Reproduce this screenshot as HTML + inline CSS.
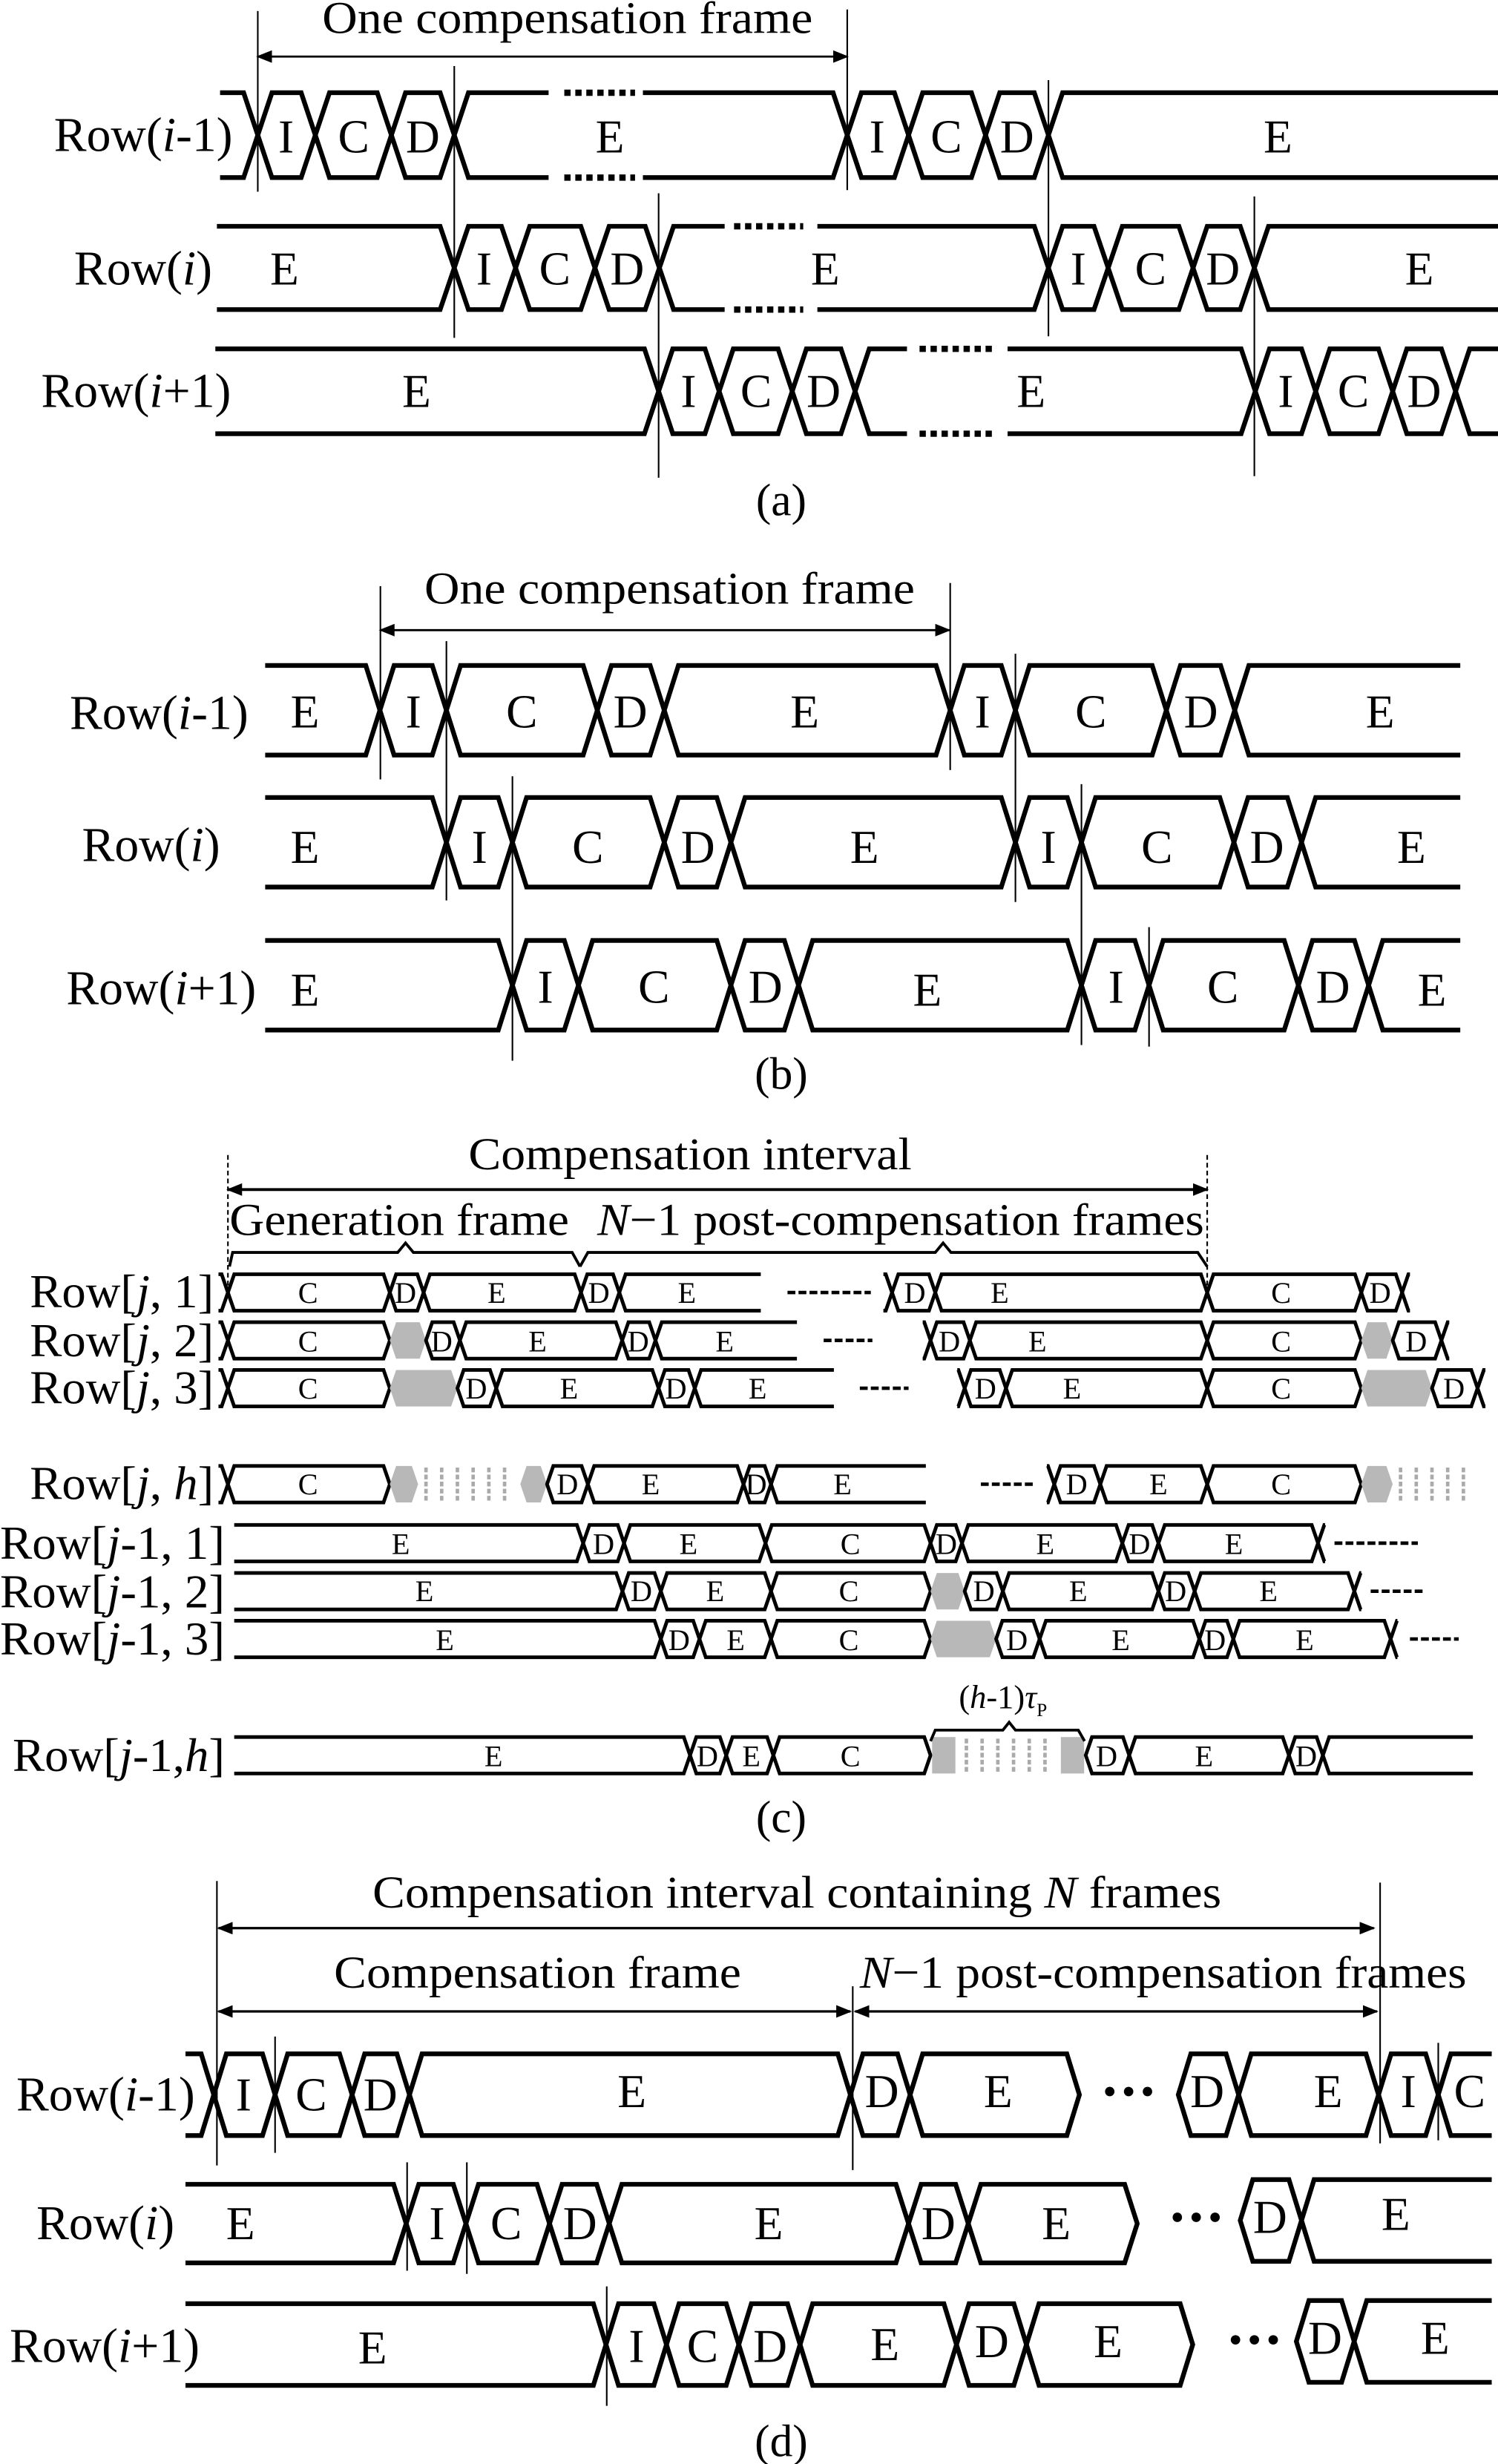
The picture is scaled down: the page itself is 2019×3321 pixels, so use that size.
<!DOCTYPE html>
<html><head><meta charset="utf-8">
<style>
html,body{margin:0;padding:0;background:#fff;}
svg{display:block;}
text{font-family:"Liberation Serif",serif;fill:#000;}
.L{font-size:31px;}
.S{font-size:30px;text-anchor:middle;}
.c{font-size:30px;}
.s{font-size:19px;text-anchor:middle;}
.T{font-size:29px;text-anchor:middle;}
</style></head><body>
<svg id="svg" width="2019" height="3321" viewBox="0 0 953 1568" preserveAspectRatio="none" xmlns="http://www.w3.org/2000/svg">
<rect width="953" height="1568" fill="#fff"/>
<defs>
<marker id="ar" markerWidth="10" markerHeight="8" refX="9" refY="4" orient="auto" markerUnits="userSpaceOnUse"><path d="M0,0 L10,4 L0,8 Z" fill="#000"/></marker>
<marker id="al" markerWidth="10" markerHeight="8" refX="1" refY="4" orient="auto" markerUnits="userSpaceOnUse"><path d="M10,0 L0,4 L10,8 Z" fill="#000"/></marker>
</defs>
<g id="shapes" fill="none" stroke="#000" stroke-linejoin="miter"></g>

<!-- ===== Panel (a) ===== -->
<line x1="164" y1="36" x2="539" y2="36" stroke="#000" stroke-width="1.3" marker-start="url(#al)" marker-end="url(#ar)"/>
<text class="T" x="361" y="21" textLength="312" lengthAdjust="spacingAndGlyphs">One compensation frame</text>
<g stroke="#000" stroke-width="1">
<line x1="164" y1="7" x2="164" y2="122"/><line x1="289" y1="42" x2="289" y2="215"/>
<line x1="539" y1="6" x2="539" y2="121"/><line x1="419" y1="123" x2="419" y2="304"/>
<line x1="667" y1="51" x2="667" y2="214"/><line x1="798" y1="125" x2="798" y2="303"/>
</g>
<text class="L" x="148" y="96" text-anchor="end">Row(<tspan font-style="italic">i</tspan>-1)</text>
<text class="L" x="135" y="181" text-anchor="end">Row(<tspan font-style="italic">i</tspan>)</text>
<text class="L" x="147" y="259" text-anchor="end">Row(<tspan font-style="italic">i</tspan>+1)</text>
<g class="S">
<text x="182" y="97">I</text><text x="225" y="97">C</text><text x="269" y="97">D</text><text x="388" y="97">E</text><text x="558" y="97">I</text><text x="602" y="97">C</text><text x="647" y="97">D</text><text x="813" y="97">E</text>
<text x="181" y="181">E</text><text x="308" y="181">I</text><text x="353" y="181">C</text><text x="399" y="181">D</text><text x="525" y="181">E</text><text x="686" y="181">I</text><text x="732" y="181">C</text><text x="778" y="181">D</text><text x="903" y="181">E</text>
<text x="265" y="259">E</text><text x="438" y="259">I</text><text x="481" y="259">C</text><text x="524" y="259">D</text><text x="656" y="259">E</text><text x="818" y="259">I</text><text x="861" y="259">C</text><text x="906" y="259">D</text>
</g>
<text class="T" x="497" y="328">(a)</text>

<!-- ===== Panel (b) ===== -->
<line x1="242" y1="401" x2="604" y2="401" stroke="#000" stroke-width="1.3" marker-start="url(#al)" marker-end="url(#ar)"/>
<text class="T" x="426" y="384" textLength="312" lengthAdjust="spacingAndGlyphs">One compensation frame</text>
<g stroke="#000" stroke-width="1">
<line x1="242" y1="373" x2="242" y2="496"/><line x1="284" y1="408" x2="284" y2="573"/><line x1="326" y1="494" x2="326" y2="675"/>
<line x1="604.5" y1="371" x2="604.5" y2="490"/><line x1="646" y1="416" x2="646" y2="574"/><line x1="688" y1="499" x2="688" y2="665"/><line x1="731" y1="590" x2="731" y2="666"/>
</g>
<text class="L" x="158" y="464" text-anchor="end">Row(<tspan font-style="italic">i</tspan>-1)</text>
<text class="L" x="140" y="548" text-anchor="end">Row(<tspan font-style="italic">i</tspan>)</text>
<text class="L" x="163" y="639" text-anchor="end">Row(<tspan font-style="italic">i</tspan>+1)</text>
<g class="S">
<text x="194" y="463">E</text><text x="263" y="463">I</text><text x="332" y="463">C</text><text x="401" y="463">D</text><text x="512" y="463">E</text><text x="625" y="463">I</text><text x="694" y="463">C</text><text x="764" y="463">D</text><text x="878" y="463">E</text>
<text x="194" y="549">E</text><text x="305" y="549">I</text><text x="374" y="549">C</text><text x="444" y="549">D</text><text x="550" y="549">E</text><text x="667" y="549">I</text><text x="736" y="549">C</text><text x="806" y="549">D</text><text x="898" y="549">E</text>
<text x="194" y="640">E</text><text x="347" y="638">I</text><text x="416" y="638">C</text><text x="487" y="638">D</text><text x="590" y="640">E</text><text x="710" y="638">I</text><text x="778" y="638">C</text><text x="848" y="638">D</text><text x="911" y="640">E</text>
</g>
<text class="T" x="497" y="693">(b)</text>

<!-- ===== Panel (c) ===== -->
<line x1="145" y1="735" x2="145" y2="822" stroke="#000" stroke-width="1" stroke-dasharray="3 2"/>
<line x1="768" y1="735" x2="768" y2="822" stroke="#000" stroke-width="1" stroke-dasharray="3 2"/>
<line x1="145" y1="757" x2="768" y2="757" stroke="#000" stroke-width="1.8" marker-start="url(#al)" marker-end="url(#ar)"/>
<text class="T" x="439" y="744" textLength="282" lengthAdjust="spacingAndGlyphs">Compensation interval</text>
<text x="146" y="786" style="font-size:29px" textLength="216" lengthAdjust="spacingAndGlyphs">Generation frame</text>
<text x="380" y="786" style="font-size:29px" textLength="386" lengthAdjust="spacingAndGlyphs"><tspan font-style="italic">N</tspan>−1 post-compensation frames</text>
<path d="M146,806 L148,797 L253,797 L258,791 L263,797 L364,797 L369,806 M369,806 L374,797 L595,797 L600,791 L605,797 L762,797 L768,806" fill="none" stroke="#000" stroke-width="1.8"/>
<g class="c">
<text x="136" y="832" text-anchor="end" textLength="117" lengthAdjust="spacingAndGlyphs">Row[<tspan font-style="italic">j</tspan>, 1]</text>
<text x="136" y="863" text-anchor="end" textLength="117" lengthAdjust="spacingAndGlyphs">Row[<tspan font-style="italic">j</tspan>, 2]</text>
<text x="136" y="893" text-anchor="end" textLength="117" lengthAdjust="spacingAndGlyphs">Row[<tspan font-style="italic">j</tspan>, 3]</text>
<text x="136" y="954" text-anchor="end" textLength="117" lengthAdjust="spacingAndGlyphs">Row[<tspan font-style="italic">j</tspan>, <tspan font-style="italic">h</tspan>]</text>
<text x="143" y="992" text-anchor="end" textLength="143" lengthAdjust="spacingAndGlyphs">Row[<tspan font-style="italic">j</tspan>-1, 1]</text>
<text x="143" y="1023" text-anchor="end" textLength="143" lengthAdjust="spacingAndGlyphs">Row[<tspan font-style="italic">j</tspan>-1, 2]</text>
<text x="143" y="1053" text-anchor="end" textLength="143" lengthAdjust="spacingAndGlyphs">Row[<tspan font-style="italic">j</tspan>-1, 3]</text>
<text x="143" y="1127" text-anchor="end" textLength="135" lengthAdjust="spacingAndGlyphs">Row[<tspan font-style="italic">j</tspan>-1,<tspan font-style="italic">h</tspan>]</text>
</g>
<g class="s">
<text x="196" y="829">C</text><text x="258" y="829">D</text><text x="316" y="829">E</text><text x="381" y="829">D</text><text x="437" y="829">E</text><text x="582" y="829">D</text><text x="636" y="829">E</text><text x="815" y="829">C</text><text x="878" y="829">D</text>
<text x="196" y="860">C</text><text x="281" y="860">D</text><text x="342" y="860">E</text><text x="406" y="860">D</text><text x="461" y="860">E</text><text x="604" y="860">D</text><text x="660" y="860">E</text><text x="815" y="860">C</text><text x="901" y="860">D</text>
<text x="196" y="890">C</text><text x="303" y="890">D</text><text x="362" y="890">E</text><text x="430" y="890">D</text><text x="482" y="890">E</text><text x="627" y="890">D</text><text x="682" y="890">E</text><text x="815" y="890">C</text><text x="925" y="890">D</text>
<text x="196" y="951">C</text><text x="361" y="951">D</text><text x="414" y="951">E</text><text x="481" y="951">D</text><text x="536" y="951">E</text><text x="685" y="951">D</text><text x="737" y="951">E</text><text x="815" y="951">C</text>
<text x="255" y="989">E</text><text x="384" y="989">D</text><text x="438" y="989">E</text><text x="541" y="989">C</text><text x="602" y="989">D</text><text x="665" y="989">E</text><text x="725" y="989">D</text><text x="785" y="989">E</text>
<text x="270" y="1019">E</text><text x="408" y="1019">D</text><text x="455" y="1019">E</text><text x="540" y="1019">C</text><text x="626" y="1019">D</text><text x="686" y="1019">E</text><text x="748" y="1019">D</text><text x="807" y="1019">E</text>
<text x="283" y="1050">E</text><text x="432" y="1050">D</text><text x="468" y="1050">E</text><text x="540" y="1050">C</text><text x="647" y="1050">D</text><text x="713" y="1050">E</text><text x="773" y="1050">D</text><text x="830" y="1050">E</text>
<text x="314" y="1124">E</text><text x="450" y="1124">D</text><text x="478" y="1124">E</text><text x="541" y="1124">C</text><text x="704" y="1124">D</text><text x="766" y="1124">E</text><text x="831" y="1124">D</text>
</g>
<text x="610" y="1087" style="font-size:21px">(<tspan font-style="italic">h</tspan>-1)<tspan font-style="italic">τ</tspan><tspan font-size="12" dy="5">P</tspan></text>
<path d="M592,1108 L595,1101 L638,1101 L642,1096 L646,1101 L686,1101 L690,1108" fill="none" stroke="#000" stroke-width="1.8"/>
<text class="T" x="497" y="1166">(c)</text>

<!-- ===== Panel (d) ===== -->
<g stroke="#000" stroke-width="1">
<line x1="138" y1="1197" x2="138" y2="1378"/><line x1="175" y1="1296" x2="175" y2="1370"/>
<line x1="542.5" y1="1264" x2="542.5" y2="1381"/><line x1="878" y1="1198" x2="878" y2="1364"/><line x1="915" y1="1300" x2="915" y2="1362"/>
<line x1="259" y1="1376" x2="259" y2="1445"/><line x1="297" y1="1376" x2="297" y2="1447"/><line x1="386" y1="1455" x2="386" y2="1531"/>
</g>
<line x1="139" y1="1227" x2="874" y2="1227" stroke="#000" stroke-width="1.5" marker-start="url(#al)" marker-end="url(#ar)"/>
<line x1="139" y1="1280" x2="541" y2="1280" stroke="#000" stroke-width="1.5" marker-start="url(#al)" marker-end="url(#ar)"/>
<line x1="544" y1="1280" x2="876" y2="1280" stroke="#000" stroke-width="1.5" marker-start="url(#al)" marker-end="url(#ar)"/>
<text class="T" x="507" y="1214" textLength="540" lengthAdjust="spacingAndGlyphs">Compensation interval containing <tspan font-style="italic">N</tspan> frames</text>
<text class="T" x="342" y="1265" textLength="259" lengthAdjust="spacingAndGlyphs">Compensation frame</text>
<text x="547" y="1265" style="font-size:29px" textLength="386" lengthAdjust="spacingAndGlyphs"><tspan font-style="italic">N</tspan>−1 post-compensation frames</text>
<text class="L" x="124" y="1343" text-anchor="end">Row(<tspan font-style="italic">i</tspan>-1)</text>
<text class="L" x="111" y="1425" text-anchor="end">Row(<tspan font-style="italic">i</tspan>)</text>
<text class="L" x="127" y="1503" text-anchor="end">Row(<tspan font-style="italic">i</tspan>+1)</text>
<g class="S">
<text x="155" y="1343">I</text><text x="198" y="1343">C</text><text x="242" y="1343">D</text><text x="402" y="1341">E</text><text x="561" y="1341">D</text><text x="635" y="1341">E</text><text x="768" y="1341">D</text><text x="845" y="1341">E</text><text x="896" y="1341">I</text><text x="935" y="1341">C</text>
<text x="153" y="1425">E</text><text x="278" y="1425">I</text><text x="322" y="1425">C</text><text x="369" y="1425">D</text><text x="489" y="1425">E</text><text x="597" y="1425">D</text><text x="672" y="1425">E</text><text x="808" y="1421">D</text><text x="888" y="1419">E</text>
<text x="237" y="1504">E</text><text x="405" y="1503">I</text><text x="447" y="1503">C</text><text x="490" y="1503">D</text><text x="563" y="1502">E</text><text x="631" y="1500">D</text><text x="705" y="1500">E</text><text x="843" y="1498">D</text><text x="913" y="1498">E</text>
</g>
<g fill="#000"><circle cx="706" cy="1331" r="3"/><circle cx="718" cy="1331" r="3"/><circle cx="730" cy="1331" r="3"/>
<circle cx="749" cy="1411" r="3"/><circle cx="761" cy="1411" r="3"/><circle cx="773" cy="1411" r="3"/>
<circle cx="786" cy="1489" r="3"/><circle cx="798" cy="1489" r="3"/><circle cx="810" cy="1489" r="3"/></g>
<text class="T" x="497" y="1563">(d)</text>
</svg>
<script>
(function(){
var NS='http://www.w3.org/2000/svg',G=document.getElementById('shapes');
function el(t,a){var e=document.createElementNS(NS,t);for(var k in a)e.setAttribute(k,a[k]);G.appendChild(e);return e;}
function row(y,h,s,b,k,sw){
 for(var i=0;i<k.length;i++){
  var x1=b[i],x2=b[i+1],t=k[i],T=y-h,B=y+h,d;
  if(t=='n')d='M'+x1+','+y+'L'+(x1+s)+','+T+'L'+(x2-s)+','+T+'L'+x2+','+y+'L'+(x2-s)+','+B+'L'+(x1+s)+','+B+'Z';
  else if(t=='L'||t=='p')d='M'+x1+','+T+'L'+(x2-s)+','+T+'L'+x2+','+y+'L'+(x2-s)+','+B+'L'+x1+','+B;
  else if(t=='R'||t=='q')d='M'+x2+','+T+'L'+(x1+s)+','+T+'L'+x1+','+y+'L'+(x1+s)+','+B+'L'+x2+','+B;
  else if(t=='g'){el('path',{d:'M'+x1+','+y+'L'+(x1+s)+','+T+'L'+(x2-s)+','+T+'L'+x2+','+y+'L'+(x2-s)+','+B+'L'+(x1+s)+','+B+'Z',fill:'#b8b8b8',stroke:'none'});continue;}
  else if(t=='s'||t=='S'){
   var a=x1,c=x2;
   if(t=='S'){var w=(x2-x1)*0.15;el('rect',{x:x1+1,y:T,width:w,height:2*h,fill:'#b8b8b8',stroke:'none'});el('rect',{x:x2-w-1,y:T,width:w,height:2*h,fill:'#b8b8b8',stroke:'none'});a=x1+w+3;c=x2-w-3;}
   for(var x=a+5;x<c-2;x+=10)el('line',{x1:x,y1:T+1,x2:x,y2:B-1,stroke:'#aaa','stroke-width':2.2,'stroke-dasharray':'3 1.5'});
   continue;}
  else continue;
  el('path',{d:d,'stroke-width':sw});
 }
}
function gap(y,h,x1,x2,d1,d2,sw){
 el('rect',{x:x1,y:y-h-3,width:x2-x1,height:6,fill:'#fff',stroke:'none'});
 el('rect',{x:x1,y:y+h-3,width:x2-x1,height:6,fill:'#fff',stroke:'none'});
 el('line',{x1:d1,y1:y-h,x2:d2,y2:y-h,'stroke-width':sw+1,'stroke-dasharray':'4 3'});
 el('line',{x1:d1,y1:y+h,x2:d2,y2:y+h,'stroke-width':sw+1,'stroke-dasharray':'4 3'});
}
function dash(x1,x2,y){el('line',{x1:x1,y1:y,x2:x2,y2:y,'stroke-width':2.2,'stroke-dasharray':'5 2'});}
var sa=9,wa=3;
row(86,27,sa,[140,164,200.6,249,289,539,578,627,667,953],'LnnnnnnnR',wa);
row(170.5,26.5,sa,[138,289,328,378.5,419.5,667,705,759,798,953],'LnnnnnnnR',wa);
row(249,27,sa,[137,419,457.5,504,544,798.6,837,886,926,953],'LnnnnnnnR',wa);
gap(86,27,349,409,359,404,wa);
gap(170.5,26.5,461,520,467,511,wa);
gap(249,27,577,641,585,631,wa);
var sb=9,wb=3;
row(452,28.5,sb,[168.7,241.7,284,380,422.6,604.5,646,742,785.5,929],'LnnnnnnnR',wb);
row(536,28.5,sb,[168.7,284,326,422.6,465,646,688,785,828,929],'LnnnnnnnR',wb);
row(627,28.5,sb,[168.7,326,368,465,508,688,731,826,870.7,929],'LnnnnnnnR',wb);
var sc=4,wc=2.3,hc=11.6;
row(822.5,hc,sc,[139,145,248,269.5,369.6,394,484],'pnnnnR',wc);
row(822.5,hc,sc,[562,567.5,595,768,866,892,897],'pnnnnq',wc);
row(853,hc,sc,[139,145,248,271,292.6,395.8,417,507],'pngnnnR',wc);
row(853,hc,sc,[587,592,617,768,866,886,917,922],'pnnngnq',wc);
row(883.4,hc,sc,[139,145,248,291,315.7,419,442,530.5],'pngnnnR',wc);
row(883.4,hc,sc,[609,613.7,640,768,866,911,940,945],'pnnngnq',wc);
row(944.5,hc,sc,[139,145,248,266,331,348,374,473,490.5,589],'pngsgnnnR',wc);
row(944.5,hc,sc,[666,670.7,700,768,866,886,940],'pnnngs',wc);
row(982,hc,sc,[149,371,397,487,592,612,714,737,838.5,843],'Lnnnnnnnq',wc);
row(1012.6,hc,sc,[149,396,420.4,490.5,592,613.7,638,737,760,861.6,866],'Lnnngnnnnq',wc);
row(1043,hc,sc,[149,420.4,445,490.5,592,633.7,661.4,763,784.6,884.7,889],'Lnnngnnnnq',wc);
row(1117,hc,sc,[149,439,462,492,592,690.7,718.4,820,841.6,937],'LnnnSnnnR',wc);
dash(501,554,822.5);dash(524,555,853);dash(547,578,883.4);dash(624,657,944.5);
dash(849,902,982);dash(872,905,1012.6);dash(897,928,1043);
var sd=8,wd=3;
row(1333,26,sd,[118,136,175,224,260.5,541,579,686.7],'Lnnnnnn',wd);
row(1333,26,sd,[749.6,788,877,915,949],'nnnR',wd);
row(1415,25,sd,[118,258.4,296.4,349.6,387.6,578,616,723.5],'Lnnnnnn',wd);
row(1413,26,sd,[789,828,949],'nR',wd);
row(1492,26,sd,[118,385.5,424,470,509,608.5,653,758.8],'Lnnnnnn',wd);
row(1490,26,sd,[824.7,861.5,949],'nR',wd);
})();
</script>
</body></html>
